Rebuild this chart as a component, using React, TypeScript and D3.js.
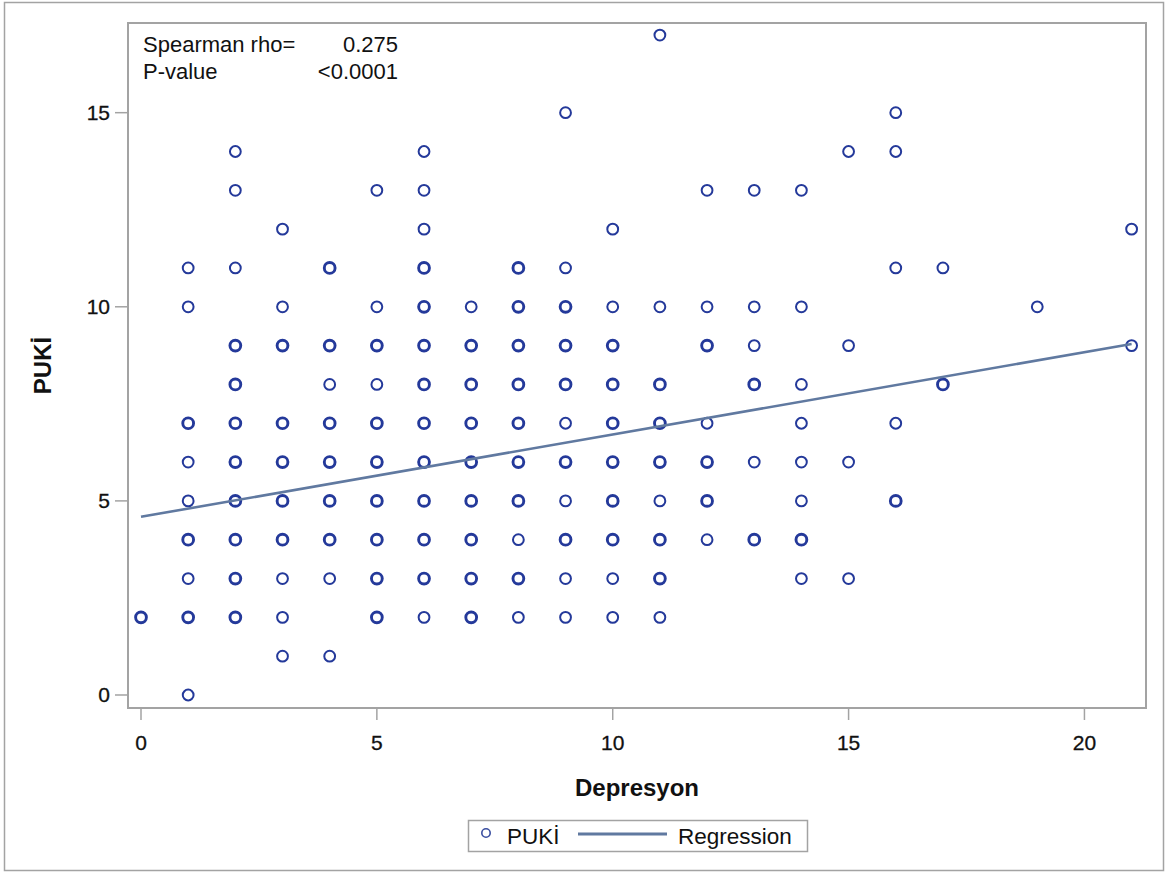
import React from "react";
import * as d3 from "d3";

// Depresyon (x), PUKİ (y), n = how many observations share the point (1 = single, 2 = several)
const depresyon: number[] = [
  0,
  1, 1, 1, 1, 1, 1, 1, 1, 1,
  2, 2, 2, 2, 2, 2, 2, 2, 2, 2, 2,
  3, 3, 3, 3, 3, 3, 3, 3, 3, 3,
  4, 4, 4, 4, 4, 4, 4, 4, 4,
  5, 5, 5, 5, 5, 5, 5, 5, 5, 5,
  6, 6, 6, 6, 6, 6, 6, 6, 6, 6, 6, 6, 6,
  7, 7, 7, 7, 7, 7, 7, 7, 7,
  8, 8, 8, 8, 8, 8, 8, 8, 8, 8,
  9, 9, 9, 9, 9, 9, 9, 9, 9, 9, 9,
  10, 10, 10, 10, 10, 10, 10, 10, 10, 10,
  11, 11, 11, 11, 11, 11, 11, 11, 11,
  12, 12, 12, 12, 12, 12, 12,
  13, 13, 13, 13, 13, 13,
  14, 14, 14, 14, 14, 14, 14, 14,
  15, 15, 15, 15,
  16, 16, 16, 16, 16,
  17, 17,
  19,
  21, 21,
];
const puki: number[] = [
  2,
  11, 10, 7, 6, 5, 4, 3, 2, 0,
  14, 13, 11, 9, 8, 7, 6, 5, 4, 3, 2,
  12, 10, 9, 7, 6, 5, 4, 3, 2, 1,
  11, 9, 8, 7, 6, 5, 4, 3, 1,
  13, 10, 9, 8, 7, 6, 5, 4, 3, 2,
  14, 13, 12, 11, 10, 9, 8, 7, 6, 5, 4, 3, 2,
  10, 9, 8, 7, 6, 5, 4, 3, 2,
  11, 10, 9, 8, 7, 6, 5, 4, 3, 2,
  15, 11, 10, 9, 8, 7, 6, 5, 4, 3, 2,
  12, 10, 9, 8, 7, 6, 5, 4, 3, 2,
  17, 10, 8, 7, 6, 5, 4, 3, 2,
  13, 10, 9, 7, 6, 5, 4,
  13, 10, 9, 8, 6, 4,
  13, 10, 8, 7, 6, 5, 4, 3,
  14, 9, 6, 3,
  15, 14, 11, 7, 5,
  11, 8,
  10,
  12, 9,
];
const counts: number[] = [
  2,
  1, 1, 2, 1, 1, 2, 1, 2, 1,
  1, 1, 1, 2, 2, 2, 2, 2, 2, 2, 2,
  1, 1, 2, 2, 2, 2, 2, 1, 1, 1,
  2, 2, 1, 2, 2, 2, 2, 1, 1,
  1, 1, 2, 1, 2, 2, 2, 2, 2, 2,
  1, 1, 1, 2, 2, 2, 2, 2, 2, 2, 2, 2, 1,
  1, 2, 2, 2, 2, 2, 2, 2, 2,
  2, 2, 2, 2, 2, 2, 2, 1, 2, 1,
  1, 1, 2, 2, 2, 1, 2, 1, 2, 1, 1,
  1, 1, 2, 2, 2, 2, 2, 2, 1, 1,
  1, 1, 2, 2, 2, 1, 2, 2, 1,
  1, 1, 2, 1, 2, 2, 1,
  1, 1, 1, 2, 1, 2,
  1, 1, 1, 1, 1, 1, 2, 1,
  1, 1, 1, 1,
  1, 1, 1, 1, 2,
  1, 2,
  1,
  1, 1,
];

const xTicks = [0, 5, 10, 15, 20];
const yTicks = [0, 5, 10, 15];
const regIntercept = 4.59;
const regSlope = 0.212;
const regRange = [0, 21];
const statLabels = ["Spearman rho=", "P-value"];
const statValues = ["0.275", "<0.0001"];

const W = 1167;
const H = 872;
const FONT = "'Liberation Sans', Arial, sans-serif";
const MARK = "#24399a";
const LINE = "#6079a0";
const GRAY = "#a3a3a3";
const INK = "#111";

export default function App() {
  const left = 128, right = 1146, top = 23, bottom = 708;
  const x = d3.scaleLinear().domain([-0.2756, 21.305]).range([left, right]);
  const y = d3.scaleLinear().domain([-0.335, 17.31]).range([bottom, top]);
  const line = d3
    .line<number>()
    .x((d) => x(d))
    .y((d) => y(regIntercept + regSlope * d));

  return (
    <svg
      width={W}
      height={H}
      style={{ position: "absolute", left: 0, top: 0, display: "block", background: "#fff" }}
      fontFamily={FONT}
    >
      <rect x={4.5} y={2.5} width={1159} height={868} fill="#fff" stroke={GRAY} strokeWidth={1.5} />
      {/* plot wall */}
      <rect x={left} y={top} width={right - left} height={bottom - top} fill="none" stroke={GRAY} strokeWidth={2} />
      {/* y axis */}
      {yTicks.map((t) => (
        <g key={"y" + t}>
          <line x1={left - 13} x2={left} y1={y(t)} y2={y(t)} stroke={GRAY} strokeWidth={1.5} />
          <text x={left - 18} y={y(t)} dy="0.35em" textAnchor="end" fontSize={21} fill={INK} stroke={INK} strokeWidth={0.3}>
            {t}
          </text>
        </g>
      ))}
      {/* x axis */}
      {xTicks.map((t) => (
        <g key={"x" + t}>
          <line x1={x(t)} x2={x(t)} y1={bottom} y2={bottom + 12} stroke={GRAY} strokeWidth={1.5} />
          <text x={x(t)} y={750} textAnchor="middle" fontSize={21} fill={INK} stroke={INK} strokeWidth={0.3}>
            {t}
          </text>
        </g>
      ))}
      <text x={(left + right) / 2} y={796} textAnchor="middle" fontSize={24} fontWeight="bold" fill={INK}>
        Depresyon
      </text>
      <text
        transform={`translate(51,${(top + bottom) / 2}) rotate(-90)`}
        textAnchor="middle"
        fontSize={24}
        fontWeight="bold"
        fill={INK}
      >
        PUKİ
      </text>
      {/* stats inset */}
      {statLabels.map((s, i) => (
        <g key={s}>
          <text x={143} y={52 + i * 27} fontSize={22} fill={INK}>
            {s}
          </text>
          <text x={398} y={52 + i * 27} fontSize={22} textAnchor="end" fill={INK}>
            {statValues[i]}
          </text>
        </g>
      ))}
      {/* points */}
      {depresyon.map((d, i) => (
        <circle
          key={i}
          cx={x(d)}
          cy={y(puki[i])}
          r={5.4}
          fill="none"
          stroke={MARK}
          strokeWidth={counts[i] > 1 ? 2.9 : 2}
        />
      ))}
      {/* regression */}
      <path d={line(regRange) || ""} fill="none" stroke={LINE} strokeWidth={2.6} />
      {/* legend */}
      <rect x={468.5} y={820.5} width={339} height={31} fill="#fff" stroke={GRAY} strokeWidth={1.5} />
      <circle cx={486} cy={833} r={4.2} fill="none" stroke="#3a4ea0" strokeWidth={1.6} />
      <text x={507} y={844} fontSize={22.5} fill={INK}>
        PUKİ
      </text>
      <line x1={578} x2={667} y1={834} y2={834} stroke={LINE} strokeWidth={3} />
      <text x={678} y={844} fontSize={22.5} fill={INK}>
        Regression
      </text>
    </svg>
  );
}
